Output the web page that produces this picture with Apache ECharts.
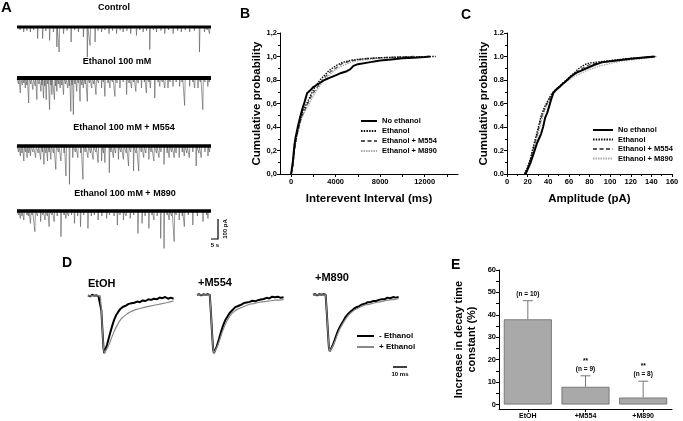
<!DOCTYPE html>
<html><head><meta charset="utf-8">
<script src="https://cdn.jsdelivr.net/npm/echarts@6/dist/echarts.min.js"></script>
<style>html,body{margin:0;padding:0;background:#fff}#c{width:683px;height:421px}</style>
</head><body><div id="c"></div>
<script>
const FONT = '"Liberation Sans", Arial, Helvetica, sans-serif';

// ---------- Panel A: spontaneous currents, events [time (s), amplitude (pA)] ----------
const traceTitles = ['Control', 'Ethanol 100 mM', 'Ethanol 100 mM + M554', 'Ethanol 100 mM + M890'];
const controlEvents = [[2,15],[4.4,25],[6.5,18],[8.8,25],[11,15],[13.6,58],[16.9,58],[19,20],[21.5,67],[24,25],[26.3,100],[27.8,125],[30.7,33],[33,18],[35.7,75],[38,15],[40.5,25],[43.8,50],[46.4,150],[48.2,92],[51.5,75],[53.5,18],[55.8,25],[58,15],[60.7,33],[63,18],[65.7,33],[68,15],[70,25],[72.5,18],[75,33],[78.8,42],[81,15],[83.2,25],[85.5,18],[87.6,113],[90,15],[92,25],[95,18],[97.5,33],[100,15],[103,33],[106,18],[108.4,25],[111,15],[113.9,25],[117,18],[120.4,125],[123.7,25],[125.5,15],[127,33]];
const ethanolEvents = [[1,30],[2.2,75],[3.5,35],[4.5,25],[5.5,50],[6.5,35],[7.7,125],[9,30],[10.5,58],[12,40],[13.1,108],[14.5,30],[15.8,67],[16.5,35],[17.5,100],[18.3,40],[19.3,108],[20.3,30],[21.5,158],[22.3,35],[23,83],[24.7,108],[25.5,40],[26.3,67],[27.3,30],[28.5,50],[29.5,35],[30.7,83],[32,30],[33.5,50],[34.5,40],[35.5,167],[36.3,35],[37.2,183],[38.3,30],[39.4,67],[40.5,25],[41.6,117],[42.7,35],[43.8,50],[45,30],[46.4,117],[47.8,25],[49.3,50],[50.7,30],[52.1,83],[53.8,25],[55.8,50],[57,20],[58,92],[60,25],[61.3,50],[63,20],[64.6,92],[66,25],[67.9,50],[70,20],[72.3,83],[74,25],[75.6,50],[77,20],[78.4,67],[80,25],[82.1,50],[84,20],[85.4,75],[87,20],[88,50],[90.9,100],[93,20],[94.2,42],[96,20],[97.5,50],[99.6,50],[101,20],[102.9,42],[105,20],[107.3,42],[109,20],[110.6,137],[113.9,42],[116,20],[117.2,50],[119.4,50],[121,20],[122.6,158],[124,20],[125.9,42],[127,20]];
const m554Events = [[1,30],[2.2,50],[3.3,35],[4.5,75],[5.6,30],[6.7,58],[7.8,35],[8.9,50],[10.5,30],[12.3,58],[14,35],[15.6,67],[16.7,30],[17.8,92],[19,35],[20.1,75],[21.2,30],[22.3,67],[24,35],[25.6,117],[27.3,30],[29,75],[31,35],[32.3,150],[34.6,192],[36.8,58],[38.5,30],[40.1,58],[42,35],[43.5,167],[45,30],[46.8,58],[48.5,35],[50.2,67],[52,30],[53.5,83],[55.8,75],[57,35],[58,83],[60.9,133],[62,30],[63.6,58],[65,35],[66.9,67],[68.5,30],[70.2,67],[72,35],[73.6,100],[75,30],[76.9,125],[78.5,35],[80.3,125],[82,30],[83.6,58],[85,35],[87,67],[88.5,30],[90.3,75],[92,35],[93.7,58],[95,30],[97,92],[99,35],[100.4,58],[102,30],[103.7,58],[105,35],[107,58],[109,30],[110.4,50],[112,35],[113.7,58],[116,30],[118.2,100],[120,35],[121.5,58],[124,30],[126,50],[127,30]];
const m890Events = [[1,20],[2.2,37],[3.3,25],[4.5,45],[6.5,20],[7.5,25],[8.9,62],[10,20],[11.8,103],[13.5,25],[15.6,53],[17,20],[18.5,45],[20,25],[21.2,78],[23,20],[24.5,53],[26.5,25],[29,128],[31,20],[32.3,37],[34,25],[36,20],[37.9,62],[40,25],[41.9,78],[44,20],[46.8,87],[49,25],[51,20],[53.5,45],[56,25],[59.1,37],[61,20],[64,25],[66.2,70],[68,20],[70.2,45],[72,25],[74.7,37],[77,20],[79.8,112],[82.5,62],[84.5,25],[87,87],[89,20],[90.3,45],[92.5,25],[94.8,137],[97,187],[99,20],[100.4,45],[102,25],[103.7,153],[105,20],[107,45],[109,25],[110.4,78],[113,20],[116,70],[119,25],[122.7,53],[125,20],[126,37]];
const traceEvents = [controlEvents, ethanolEvents, m554Events, m890Events];
const traceDuration = 128;

// ---------- Panels B & C: cumulative distributions ----------
const groupNames = ['No ethanol', 'Ethanol', 'Ethanol + M554', 'Ethanol + M890'];
const ieiNoEthanol = [[0,0],[150,0.1],[300,0.25],[400,0.31],[600,0.4],[800,0.48],[1000,0.55],[1200,0.61],[1350,0.66],[1450,0.69],[1700,0.71],[2000,0.74],[2500,0.77],[3000,0.8],[3500,0.82],[4000,0.84],[4500,0.86],[5000,0.875],[5300,0.89],[5600,0.92],[6000,0.935],[7000,0.95],[8000,0.965],[9000,0.975],[10000,0.985],[11000,0.99],[12000,0.995],[12500,1.0]];
const ieiEthanol = [[0,0],[150,0.08],[300,0.22],[500,0.33],[800,0.45],[1000,0.52],[1400,0.6],[1800,0.68],[2200,0.75],[2600,0.8],[3000,0.84],[3400,0.88],[4000,0.92],[4600,0.95],[5500,0.97],[6500,0.98],[8000,0.99],[10000,0.995],[13000,1.0]];
const ieiM554 = [[0,0],[150,0.07],[300,0.2],[500,0.32],[800,0.44],[1000,0.5],[1400,0.58],[1800,0.66],[2200,0.72],[2600,0.77],[3000,0.82],[3400,0.86],[4000,0.9],[4600,0.94],[5500,0.965],[6500,0.98],[8000,0.99],[10000,0.997],[11000,1.0]];
const ieiM890 = [[0,0],[150,0.07],[300,0.2],[500,0.31],[800,0.43],[1000,0.49],[1400,0.56],[1800,0.63],[2200,0.7],[2800,0.78],[3400,0.84],[4000,0.89],[4800,0.93],[5500,0.955],[6500,0.97],[8000,0.985],[9500,0.995],[11000,1.0]];
const ampNoEthanol = [[18,0],[20,0.04],[23,0.1],[26,0.18],[29,0.26],[31,0.3],[33,0.34],[35,0.4],[37,0.48],[39,0.52],[41,0.58],[43,0.64],[45,0.69],[48,0.72],[52,0.75],[57,0.79],[62,0.83],[67,0.86],[72,0.88],[77,0.9],[85,0.93],[92,0.95],[100,0.96],[110,0.97],[120,0.98],[130,0.99],[143,1.0]];
const ampEthanol = [[17,0],[20,0.06],[23,0.14],[26,0.25],[29,0.35],[31,0.42],[33,0.49],[35,0.54],[37,0.58],[40,0.63],[43,0.68],[46,0.71],[50,0.74],[55,0.78],[60,0.82],[65,0.86],[70,0.9],[75,0.93],[80,0.945],[90,0.955],[100,0.965],[110,0.975],[120,0.985],[130,0.99],[140,0.997],[144,1.0]];
const ampM554 = [[17,0],[20,0.05],[23,0.13],[26,0.23],[29,0.33],[31,0.4],[33,0.47],[35,0.52],[37,0.57],[40,0.62],[43,0.67],[46,0.71],[50,0.74],[55,0.78],[60,0.81],[65,0.85],[70,0.88],[75,0.91],[80,0.93],[90,0.95],[100,0.96],[110,0.97],[120,0.98],[130,0.99],[140,0.995],[145,1.0]];
const ampM890 = [[17,0],[20,0.05],[23,0.12],[26,0.21],[29,0.3],[31,0.37],[33,0.44],[35,0.5],[37,0.55],[40,0.61],[43,0.66],[46,0.7],[50,0.73],[55,0.77],[60,0.8],[65,0.83],[70,0.85],[75,0.87],[80,0.89],[90,0.92],[100,0.94],[110,0.96],[120,0.97],[130,0.98],[140,0.99],[145,1.0]];
const ieiData = [ieiNoEthanol, ieiEthanol, ieiM554, ieiM890];
const ampData = [ampNoEthanol, ampEthanol, ampM554, ampM890];

// ---------- Panel D: averaged normalised currents [time (ms), normalised amplitude] ----------
const dTitles = ['EtOH', '+M554', '+M890'];
const dNames = ['- Ethanol', '+ Ethanol'];
const dEtohMinus = [[0,0.01],[1.5,-0.01],[3,0.02],[4.5,0],[6,0.01],[7.5,-0.01],[8.8,0],[9.5,-0.25],[10.3,-0.6],[11,-0.9],[11.5,-1.0],[12.3,-0.97],[13.5,-0.86],[14.8,-0.74],[16,-0.63],[17.3,-0.52],[18.6,-0.42],[20,-0.34],[21.5,-0.28],[23,-0.23],[25,-0.19],[27,-0.17],[29,-0.14],[31,-0.13],[33,-0.12],[35,-0.1],[37,-0.11],[39,-0.08],[41,-0.09],[43,-0.06],[45,-0.07],[47,-0.05],[49,-0.06],[51,-0.03],[53,-0.04],[55,-0.02],[57,-0.05],[59,-0.03],[61,-0.05]];
const dEtohPlus = [[0,0],[8.8,0],[9.5,-0.25],[10.3,-0.6],[11,-0.9],[11.6,-1.0],[12.5,-0.97],[14,-0.9],[15.5,-0.82],[17,-0.72],[18.6,-0.62],[20,-0.55],[22,-0.46],[24,-0.39],[26,-0.35],[28,-0.31],[31,-0.27],[34,-0.24],[37,-0.22],[40,-0.2],[44,-0.18],[48,-0.16],[52,-0.14],[56,-0.12],[59,-0.1],[61,-0.09]];
const dM554Minus = [[0,0],[1.5,0.01],[3,-0.01],[4.5,0.01],[6,0],[7.5,0.01],[9,0],[9.8,-0.3],[10.6,-0.65],[11.3,-0.92],[11.9,-1.0],[12.8,-0.97],[14,-0.88],[15.5,-0.76],[17,-0.63],[18.5,-0.52],[20,-0.43],[21.5,-0.37],[23,-0.31],[25,-0.26],[27,-0.21],[29,-0.19],[31,-0.17],[33,-0.14],[35,-0.13],[37,-0.12],[39,-0.1],[41,-0.11],[43,-0.09],[45,-0.08],[47,-0.07],[49,-0.05],[51,-0.06],[53,-0.03],[55,-0.04],[57,-0.03],[59,-0.05],[61,-0.04]];
const dM554Plus = [[0,0],[9,0],[9.8,-0.3],[10.6,-0.65],[11.3,-0.92],[12,-1.0],[13,-0.97],[14.5,-0.88],[16,-0.77],[17.5,-0.66],[19,-0.56],[21,-0.45],[23,-0.37],[25,-0.31],[27,-0.27],[29,-0.24],[31,-0.22],[34,-0.19],[37,-0.16],[40,-0.15],[43,-0.13],[46,-0.12],[49,-0.11],[52,-0.1],[55,-0.09],[58,-0.09],[61,-0.08]];
const dM890Minus = [[0,0],[1.5,0.01],[3,-0.01],[4.5,0.01],[6,0],[7.5,0.01],[9,0],[9.8,-0.3],[10.6,-0.65],[11.3,-0.92],[11.9,-1.0],[12.8,-0.97],[14,-0.9],[15.5,-0.8],[17,-0.69],[18.5,-0.6],[20,-0.53],[21.5,-0.47],[23,-0.4],[25,-0.34],[27,-0.29],[29,-0.25],[31,-0.22],[33,-0.2],[35,-0.17],[37,-0.16],[39,-0.13],[41,-0.13],[43,-0.11],[45,-0.11],[47,-0.09],[49,-0.08],[51,-0.08],[53,-0.05],[55,-0.06],[57,-0.04],[59,-0.05],[61,-0.04]];
const dM890Plus = [[0,0],[9,0],[9.8,-0.3],[10.6,-0.65],[11.3,-0.92],[12,-1.0],[13,-0.97],[14.5,-0.89],[16,-0.8],[17.5,-0.7],[19,-0.61],[21,-0.52],[23,-0.44],[25,-0.37],[27,-0.32],[29,-0.28],[31,-0.25],[34,-0.21],[37,-0.18],[40,-0.17],[43,-0.15],[46,-0.13],[49,-0.12],[52,-0.1],[55,-0.09],[58,-0.08],[61,-0.07]];
const dWaves = [[dEtohMinus, dEtohPlus], [dM554Minus, dM554Plus], [dM890Minus, dM890Plus]];

// ---------- Panel E: increase in decay time constant (%) ----------
const eCategories = ['EtOH', '+M554', '+M890'];
const eValues = [38.0, 7.9, 3.1];
const eErrTop = [46.3, 12.8, 10.4];
const eNLabels = ['(n = 10)', '(n = 9)', '(n = 8)'];
const eSigLabels = ['', '**', '**'];

// =================== build chart ===================
const grids = [], xAxes = [], yAxes = [], series = [];
function addGrid(g, x, y) {
  grids.push(g);
  const i = grids.length - 1;
  xAxes.push(Object.assign({ gridIndex: i }, x));
  yAxes.push(Object.assign({ gridIndex: i }, y));
  return i;
}
const lbl = (extra) => Object.assign({ color: '#000', fontSize: 7.5, fontWeight: 'bold', fontFamily: FONT, margin: 3 }, extra || {});
const axLine = { show: true, onZero: false, lineStyle: { color: '#000', width: 1 } };
const tick = (extra) => Object.assign({ show: true, length: 3, lineStyle: { color: '#000', width: 1 } }, extra || {});
const nameStyle = { color: '#000', fontSize: 11.5, fontWeight: 'bold', fontFamily: FONT };

// Panel A
const traceTops = [25, 76, 144, 209];
const traceBaseWidth = [3, 4, 3.5, 3.5];
traceEvents.forEach((ev, k) => {
  const gi = addGrid({ left: 17, top: traceTops[k], width: 194, height: 42 },
    { type: 'value', min: 0, max: traceDuration, show: false },
    { type: 'value', min: -200, max: 10, show: false });
  const sorted = ev.slice().sort((a, b) => a[0] - b[0]);
  const pts = [[0, 0]];
  sorted.forEach(([t, a]) => { pts.push([t - 0.2, 0], [t, -a], [t + 0.35, 0]); });
  pts.push([traceDuration, 0]);
  series.push({ type: 'line', xAxisIndex: gi, yAxisIndex: gi, data: pts, symbol: 'none', silent: true,
    lineStyle: { color: '#555', width: 0.6 } });
  series.push({ type: 'line', xAxisIndex: gi, yAxisIndex: gi, data: [pts[0], pts[pts.length - 1]], symbol: 'none', silent: true,
    lineStyle: { color: '#000', width: traceBaseWidth[k] } });
});

// styles for the four groups
const groupStyles = [
  { color: '#000', width: 2, type: 'solid' },
  { color: '#111', width: 1.4, type: [1.5, 1.2] },
  { color: '#555', width: 1.3, type: [4, 2.5] },
  { color: '#aaa', width: 1.3, type: [1.5, 1] }
];
const plain = v => String(v);

// Panel B
const gB = addGrid({ left: 280, top: 33, width: 178, height: 141 },
  { type: 'value', min: -1000, max: 15000, name: 'Interevent Interval (ms)', nameLocation: 'middle', nameGap: 19, nameTextStyle: nameStyle,
    axisLine: axLine, axisTick: tick({ customValues: [0, 2000, 4000, 6000, 8000, 10000, 12000, 14000] }),
    axisLabel: lbl({ customValues: [0, 4000, 8000, 12000], margin: 4, formatter: plain }), splitLine: { show: false } },
  { type: 'value', min: 0, max: 1.2, interval: 0.2, name: 'Cumulative probability', nameLocation: 'middle', nameGap: 16, nameTextStyle: nameStyle,
    axisLine: axLine, axisTick: tick(), minorTick: { show: true, splitNumber: 2, length: 2, lineStyle: { color: '#000' } },
    axisLabel: lbl({ formatter: v => v.toFixed(1).replace('.', ',') }), splitLine: { show: false } });
ieiData.forEach((d, k) => series.push({ type: 'line', name: groupNames[k], xAxisIndex: gB, yAxisIndex: gB, data: d, symbol: 'none',
  lineStyle: groupStyles[k], itemStyle: { color: groupStyles[k].color }, z: 10 - k }));

// Panel C
const gC = addGrid({ left: 507, top: 33, width: 165, height: 141 },
  { type: 'value', min: 0, max: 160, interval: 20, name: 'Amplitude (pA)', nameLocation: 'middle', nameGap: 19, nameTextStyle: nameStyle,
    axisLine: axLine, axisTick: tick(), minorTick: { show: true, splitNumber: 2, length: 2, lineStyle: { color: '#000' } },
    axisLabel: lbl({ margin: 4, formatter: plain }), splitLine: { show: false } },
  { type: 'value', min: 0, max: 1.2, interval: 0.2, name: 'Cumulative probability', nameLocation: 'middle', nameGap: 16, nameTextStyle: nameStyle,
    axisLine: axLine, axisTick: tick(), minorTick: { show: true, splitNumber: 2, length: 2, lineStyle: { color: '#000' } },
    axisLabel: lbl({ formatter: v => v.toFixed(1) }), splitLine: { show: false } });
ampData.forEach((d, k) => series.push({ type: 'line', name: groupNames[k], xAxisIndex: gC, yAxisIndex: gC, data: d, symbol: 'none',
  lineStyle: groupStyles[k], itemStyle: { color: groupStyles[k].color }, z: 10 - k }));

// Panel D
const dGrids = [
  { left: 88, top: 293, width: 87, height: 63 },
  { left: 197, top: 292, width: 88, height: 64 },
  { left: 313, top: 292, width: 87, height: 62 }
];
const dStyles = [{ color: '#000', width: 2 }, { color: '#888', width: 1.2 }];
dWaves.forEach((pair, k) => {
  const gi = addGrid(dGrids[k], { type: 'value', min: 0, max: 62, show: false }, { type: 'value', min: -1.05, max: 0.05, show: false });
  pair.forEach((d, j) => series.push({ type: 'line', name: dNames[j], xAxisIndex: gi, yAxisIndex: gi, data: d, symbol: 'none',
    lineStyle: dStyles[j], itemStyle: { color: dStyles[j].color }, z: 5 + j }));
});

// Panel E
const gE = addGrid({ left: 499, top: 270, width: 173, height: 139 },
  { type: 'category', data: eCategories, axisLine: axLine, axisTick: tick({ alignWithLabel: true }), axisLabel: lbl({ fontSize: 7, margin: 4 }) },
  { type: 'value', min: -2, max: 60, name: 'Increase in decay time\nconstant (%)', nameLocation: 'middle', nameGap: 21,
    nameTextStyle: Object.assign({}, nameStyle, { fontSize: 11, lineHeight: 13 }),
    axisLine: axLine, axisTick: tick({ customValues: [0, 5, 10, 15, 20, 25, 30, 35, 40, 45, 50, 55, 60] }),
    axisLabel: lbl({ customValues: [0, 10, 20, 30, 40, 50, 60] }), splitLine: { show: false } });
series.push({ type: 'bar', xAxisIndex: gE, yAxisIndex: gE, data: eValues, barWidth: 48,
  itemStyle: { color: '#a9a9a9', borderColor: '#666', borderWidth: 0.8 } });
series.push({ type: 'custom', xAxisIndex: gE, yAxisIndex: gE, z: 10,
  data: eValues.map((v, i) => [i, v, eErrTop[i]]),
  encode: { x: 0, y: [1, 2] },
  renderItem: (params, api) => {
    const i = api.value(0);
    const b = api.coord([i, api.value(1)]);
    const t = api.coord([i, api.value(2)]);
    const txt = (s, y) => ({ type: 'text', x: t[0], y: y,
      style: { text: s, textAlign: 'center', textVerticalAlign: 'bottom', fontSize: 6.5, fontWeight: 'bold', fontFamily: FONT, fill: '#000' } });
    const kids = [
      { type: 'line', shape: { x1: b[0], y1: b[1], x2: t[0], y2: t[1] }, style: { stroke: '#777', lineWidth: 1 } },
      { type: 'line', shape: { x1: t[0] - 5, y1: t[1], x2: t[0] + 5, y2: t[1] }, style: { stroke: '#777', lineWidth: 1 } },
      txt(eNLabels[i], t[1] - 3)
    ];
    if (eSigLabels[i]) kids.push(txt(eSigLabels[i], t[1] - 11));
    return { type: 'group', children: kids };
  } });

const legendText = (fs) => ({ color: '#000', fontSize: fs, fontWeight: 'bold', fontFamily: FONT });
const legendCommon = { orient: 'vertical', itemHeight: 8, selectedMode: false, itemStyle: { opacity: 0, borderWidth: 0 } };
const txt = (s, x, y, size, extra) => Object.assign({ type: 'text', x: x, y: y,
  style: Object.assign({ text: s, fill: '#000', font: 'bold ' + size + 'px ' + FONT, textAlign: 'center', textVerticalAlign: 'middle' }, extra || {}) });

const option = {
  animation: false,
  backgroundColor: '#fff',
  grid: grids, xAxis: xAxes, yAxis: yAxes, series: series,
  legend: [
    Object.assign({ data: groupNames, left: 355, top: 112, itemWidth: 16, itemGap: 2, textStyle: legendText(7.5) }, legendCommon),
    Object.assign({ data: groupNames, left: 587, top: 121, itemWidth: 20, itemGap: 1.5, textStyle: legendText(7.5) }, legendCommon),
    Object.assign({ data: dNames, left: 351, top: 327, itemWidth: 17, itemGap: 3, textStyle: legendText(8) }, legendCommon)
  ],
  graphic: [
    txt('A', 1, 8, 15, { textAlign: 'left' }),
    txt('B', 240, 14, 14, { textAlign: 'left' }),
    txt('C', 461, 15, 14, { textAlign: 'left' }),
    txt('D', 62, 263, 14, { textAlign: 'left' }),
    txt('E', 451, 265, 14, { textAlign: 'left' }),
    txt(traceTitles[0], 114, 8, 9),
    txt(traceTitles[1], 117, 62, 9),
    txt(traceTitles[2], 124, 128, 9),
    txt(traceTitles[3], 125, 194, 9),
    txt(dTitles[0], 88, 284, 11, { textAlign: 'left' }),
    txt(dTitles[1], 198, 283, 11, { textAlign: 'left' }),
    txt(dTitles[2], 315, 278, 11, { textAlign: 'left' }),
    { type: 'polyline', shape: { points: [[211, 239], [218, 239], [218, 219]] }, style: { stroke: '#000', lineWidth: 1.2, fill: null } },
    txt('5 s', 215, 245, 6),
    Object.assign(txt('100 pA', 225, 229, 6), { rotation: Math.PI / 2 }),
    { type: 'line', shape: { x1: 393, y1: 367, x2: 407, y2: 367 }, style: { stroke: '#000', lineWidth: 1.5 } },
    txt('10 ms', 400, 374, 6)
  ]
};
const chart = echarts.init(document.getElementById('c'));
chart.setOption(option);
</script></body></html>
